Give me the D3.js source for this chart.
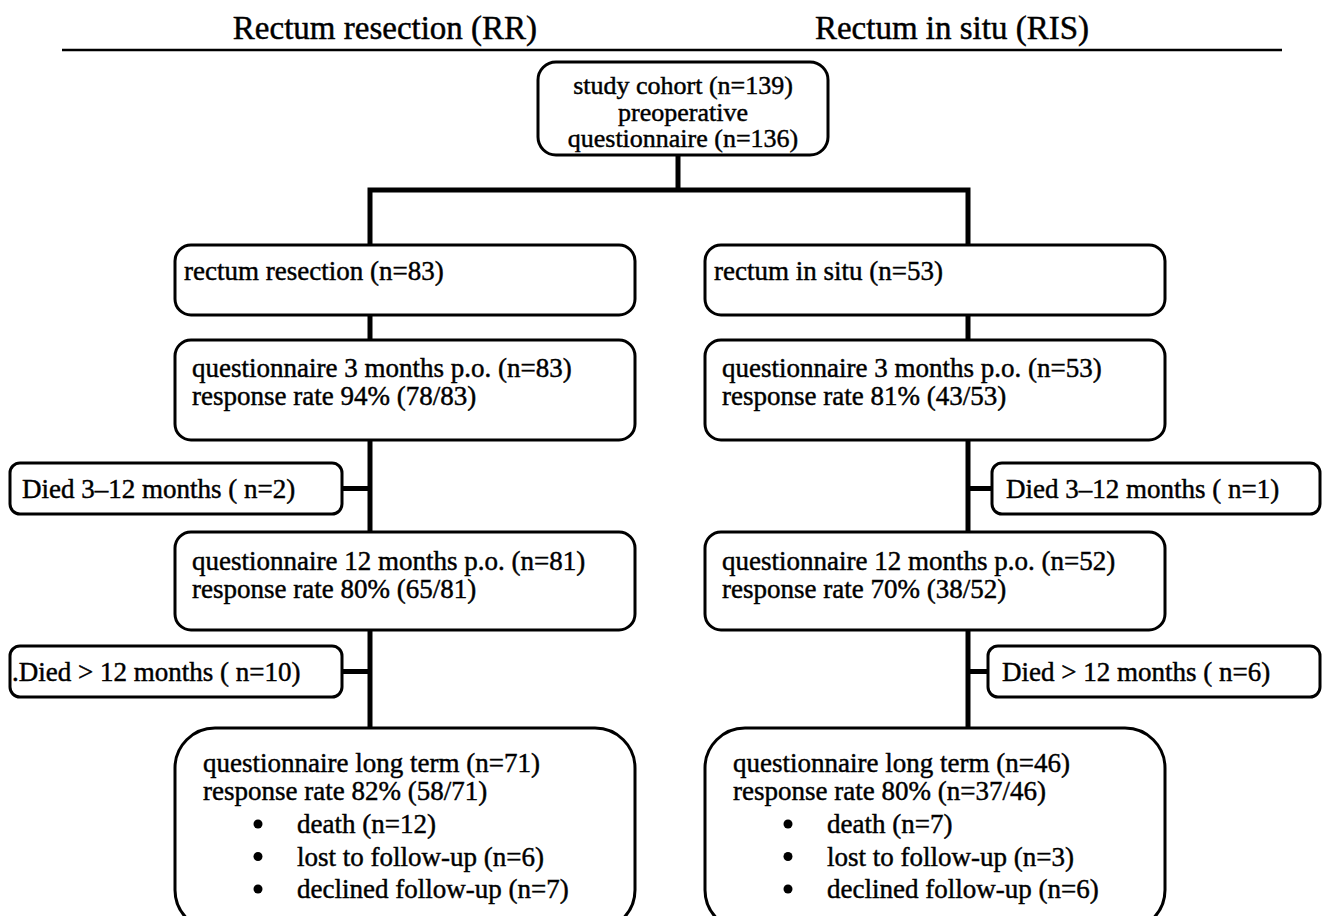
<!DOCTYPE html>
<html>
<head>
<meta charset="utf-8">
<script src="https://cdn.jsdelivr.net/npm/d3@7"></script>
<style>
  body { margin: 0; background: #fff; }
  svg text { font-family: "Liberation Serif", "Times New Roman", serif; fill: #000; stroke: #000; stroke-width: 0.45; }
</style>
</head>
<body>
<script>
/* Data */
const armTitles = ["Rectum resection (RR)", "Rectum in situ (RIS)"];
const cohortLines = ["study cohort (n=139)", "preoperative", "questionnaire (n=136)"];

const stageLines = {
  RR: [
    ["rectum resection (n=83)"],
    ["questionnaire 3 months p.o. (n=83)", "response rate 94% (78/83)"],
    ["questionnaire 12 months p.o. (n=81)", "response rate 80% (65/81)"],
    ["questionnaire long term (n=71)", "response rate 82% (58/71)"]
  ],
  RIS: [
    ["rectum in situ (n=53)"],
    ["questionnaire 3 months p.o. (n=53)", "response rate 81% (43/53)"],
    ["questionnaire 12 months p.o. (n=52)", "response rate 70% (38/52)"],
    ["questionnaire long term (n=46)", "response rate 80% (n=37/46)"]
  ]
};
const bulletLines = {
  RR: ["death (n=12)", "lost to follow-up (n=6)", "declined follow-up (n=7)"],
  RIS: ["death (n=7)", "lost to follow-up (n=3)", "declined follow-up (n=6)"]
};
const diedLines = {
  RR: ["Died 3\u201312 months ( n=2)", ".Died > 12 months ( n=10)"],
  RIS: ["Died 3\u201312 months ( n=1)", "Died > 12 months ( n=6)"]
};

/* Layout */
const w = 1323, h = 916;
const arms = ["RR", "RIS"];
const stageTop = [245, 340, 532, 728];
const stageBottom = [315, 440, 630, 930];
const stageRadius = [16, 16, 16, 40];
const diedTop = [463, 646];
const diedBottom = [514, 697];
const fs = 27;

const colX = d3.scaleOrdinal().domain(arms).range([175, 705]);   // box left
const spineX = d3.scaleOrdinal().domain(arms).range([370, 968]);  // connector x
const titleX = d3.scaleOrdinal().domain(arms).range([385, 952]);
const boxW = 460;

const svg = d3.select("body").append("svg")
  .attr("width", w).attr("height", h);

/* Header */
svg.selectAll(".arm-title")
  .data(arms)
  .enter().append("text")
  .attr("class", "arm-title")
  .attr("x", d => titleX(d))
  .attr("y", 39)
  .attr("text-anchor", "middle")
  .attr("font-size", 33)
  .text((d, i) => armTitles[i]);

svg.append("line")
  .attr("x1", 62).attr("x2", 1282)
  .attr("y1", 50).attr("y2", 50)
  .attr("stroke", "#000").attr("stroke-width", 2.5);

/* Connectors (drawn first, boxes on top) */
const conn = svg.append("g")
  .attr("stroke", "#000").attr("stroke-width", 5).attr("fill", "none");

conn.append("path").attr("d", "M678,155V190");
conn.append("path").attr("d", `M${spineX("RR")},${stageTop[0]}V190H${spineX("RIS")}V${stageTop[0]}`);

arms.forEach(a => {
  for (let i = 0; i < 3; i++) {
    conn.append("line")
      .attr("x1", spineX(a)).attr("x2", spineX(a))
      .attr("y1", stageBottom[i]).attr("y2", stageTop[i + 1]);
  }
});

/* Died side boxes */
const diedX = { RR: [[10, 342], [10, 342]], RIS: [[992, 1320], [988, 1320]] };
const diedPad = { RR: [12, 2], RIS: [14, 14] };
arms.forEach(a => {
  diedLines[a].forEach((t, i) => {
    const xs = diedX[a][i];
    const yMid = (diedTop[i] + diedBottom[i]) / 2;
    const edge = a === "RR" ? xs[1] : xs[0];
    conn.append("line")
      .attr("x1", spineX(a)).attr("x2", edge)
      .attr("y1", yMid).attr("y2", yMid);
    svg.append("rect")
      .attr("x", xs[0]).attr("y", diedTop[i])
      .attr("width", xs[1] - xs[0]).attr("height", diedBottom[i] - diedTop[i])
      .attr("rx", 10)
      .attr("fill", "#fff").attr("stroke", "#000").attr("stroke-width", 3);
    svg.append("text")
      .attr("x", xs[0] + diedPad[a][i])
      .attr("y", yMid + 9)
      .attr("font-size", fs)
      .text(t);
  });
});

/* Cohort box */
svg.append("rect")
  .attr("x", 538).attr("y", 62)
  .attr("width", 290).attr("height", 93)
  .attr("rx", 18)
  .attr("fill", "#fff").attr("stroke", "#000").attr("stroke-width", 3);

svg.selectAll(".cohort")
  .data(cohortLines)
  .enter().append("text")
  .attr("class", "cohort")
  .attr("x", 683)
  .attr("y", (d, i) => 94 + i * 26.5)
  .attr("text-anchor", "middle")
  .attr("font-size", 26)
  .text(d => d);

/* Stage boxes */
const textIndent = [9, 17, 17, 28];
const firstBase = [280, 377, 570, 772];
arms.forEach(a => {
  stageLines[a].forEach((lines, i) => {
    svg.append("rect")
      .attr("x", colX(a)).attr("y", stageTop[i])
      .attr("width", boxW).attr("height", stageBottom[i] - stageTop[i])
      .attr("rx", stageRadius[i])
      .attr("fill", "#fff").attr("stroke", "#000").attr("stroke-width", 3);
    lines.forEach((t, j) => {
      svg.append("text")
        .attr("x", colX(a) + textIndent[i])
        .attr("y", firstBase[i] + j * 28)
        .attr("font-size", fs)
        .text(t);
    });
  });

  bulletLines[a].forEach((t, j) => {
    const by = 833 + j * 32.5;
    svg.append("circle")
      .attr("cx", colX(a) + 83).attr("cy", by - 9)
      .attr("r", 4.5).attr("fill", "#000");
    svg.append("text")
      .attr("x", colX(a) + 122)
      .attr("y", by)
      .attr("font-size", fs)
      .text(t);
  });
});
</script>
</body>
</html>
